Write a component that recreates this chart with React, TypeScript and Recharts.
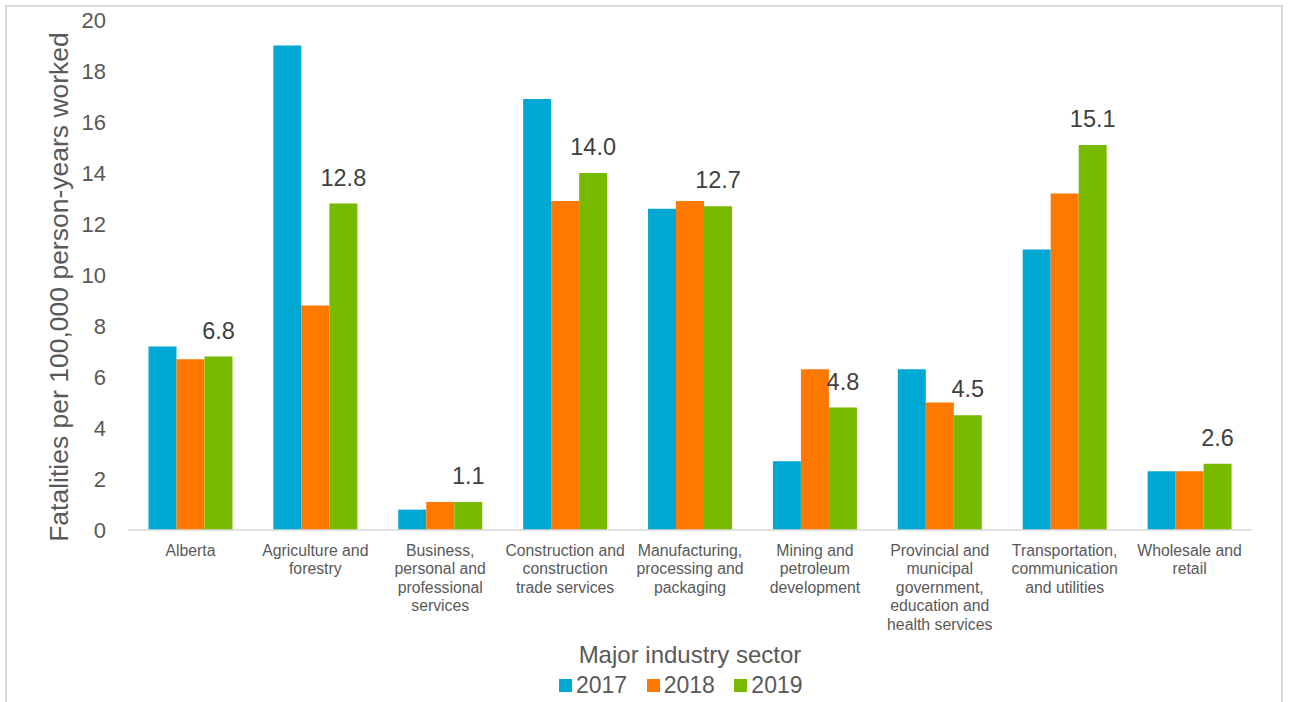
import React from "react";
import { BarChart, Bar, XAxis, YAxis, LabelList, Label } from "recharts";

const sectors = [
  "Alberta",
  "Agriculture and\nforestry",
  "Business,\npersonal and\nprofessional\nservices",
  "Construction and\nconstruction\ntrade services",
  "Manufacturing,\nprocessing and\npackaging",
  "Mining and\npetroleum\ndevelopment",
  "Provincial and\nmunicipal\ngovernment,\neducation and\nhealth services",
  "Transportation,\ncommunication\nand utilities",
  "Wholesale and\nretail",
];

const rate2017 = [7.2, 19.0, 0.8, 16.9, 12.6, 2.7, 6.3, 11.0, 2.3];
const rate2018 = [6.7, 8.8, 1.1, 12.9, 12.9, 6.3, 5.0, 13.2, 2.3];
const rate2019 = [6.8, 12.8, 1.1, 14.0, 12.7, 4.8, 4.5, 15.1, 2.6];

const years = ["2017", "2018", "2019"];
const colors = ["#00A9D3", "#FF7800", "#77BA00"];
const yTicks = [0, 2, 4, 6, 8, 10, 12, 14, 16, 18, 20];

const FONT = "'Liberation Sans', Arial, sans-serif";

const data = sectors.map((name, i) => ({
  name,
  y2017: rate2017[i],
  y2018: rate2018[i],
  y2019: rate2019[i],
}));

function SectorTick(props: any) {
  const { x, y, payload } = props;
  const lines = String(payload.value).split("\n");
  return (
    <text x={x} y={y} textAnchor="middle" fill="#595959" fontSize={15.8} fontFamily={FONT}>
      {lines.map((ln, i) => (
        <tspan key={i} x={x} dy={i === 0 ? 25.5 : 18.5}>
          {ln}
        </tspan>
      ))}
    </text>
  );
}

function YTitle(props: any) {
  const vb = props.viewBox;
  const cx = vb.x + 59;
  const cy = vb.y + vb.height / 2 + 12;
  return (
    <text
      x={cx}
      y={cy}
      transform={`rotate(-90, ${cx}, ${cy})`}
      textAnchor="middle"
      dominantBaseline="central"
      fill="#595959"
      fontSize={26.5}
      fontFamily={FONT}
    >
      Fatalities per 100,000 person-years worked
    </text>
  );
}

export default function App() {
  return (
    <div style={{ position: "absolute", left: 0, top: 0, width: 1289, height: 702, background: "#fff", overflow: "hidden", fontFamily: FONT }}>
      <div
        style={{
          position: "absolute",
          left: 5,
          top: 5,
          width: 1278,
          height: 740,
          border: "2px solid #d9d9d9",
          boxSizing: "border-box",
        }}
      />
      <BarChart
        width={1289}
        height={702}
        data={data}
        margin={{ top: 20, right: 37, left: 0, bottom: 72 }}
        barGap={0}
        barCategoryGap="16.4%"
        style={{ position: "absolute", left: 0, top: 0 }}
      >
        <XAxis
          dataKey="name"
          height={100}
          interval={0}
          tickLine={false}
          tickSize={0}
          tickMargin={0}
          axisLine={{ stroke: "#d9d9d9", strokeWidth: 1.5 }}
          tick={<SectorTick />}
        />
        <YAxis
          width={128}
          domain={[0, 20]}
          ticks={yTicks}
          axisLine={false}
          tickLine={false}
          tickSize={0}
          tickMargin={22}
          tick={{ fill: "#595959", fontSize: 22, fontFamily: FONT }}
        >
          <Label content={<YTitle />} />
        </YAxis>
        <Bar dataKey="y2017" name={years[0]} fill={colors[0]} isAnimationActive={false} />
        <Bar dataKey="y2018" name={years[1]} fill={colors[1]} isAnimationActive={false} />
        <Bar dataKey="y2019" name={years[2]} fill={colors[2]} isAnimationActive={false}>
          <LabelList
            dataKey="y2019"
            position="top"
            offset={18}
            fill="#404040"
            fontSize={23.5}
            fontFamily={FONT}
            formatter={(v: any) => Number(v).toFixed(1)}
          />
        </Bar>
      </BarChart>
      <div
        style={{
          position: "absolute",
          left: 490,
          width: 400,
          top: 642,
          textAlign: "center",
          fontSize: 24,
          lineHeight: "26px",
          color: "#595959",
        }}
      >
        Major industry sector
      </div>
      <div
        style={{
          position: "absolute",
          left: 559,
          top: 672,
          display: "flex",
          alignItems: "center",
          fontSize: 23,
          lineHeight: "26px",
          color: "#595959",
        }}
      >
        {years.map((yr, i) => (
          <div key={yr} style={{ display: "flex", alignItems: "center", marginRight: 19.5 }}>
            <span style={{ width: 13, height: 13, background: colors[i], display: "inline-block", marginRight: 4 }} />
            <span>{yr}</span>
          </div>
        ))}
      </div>
    </div>
  );
}
